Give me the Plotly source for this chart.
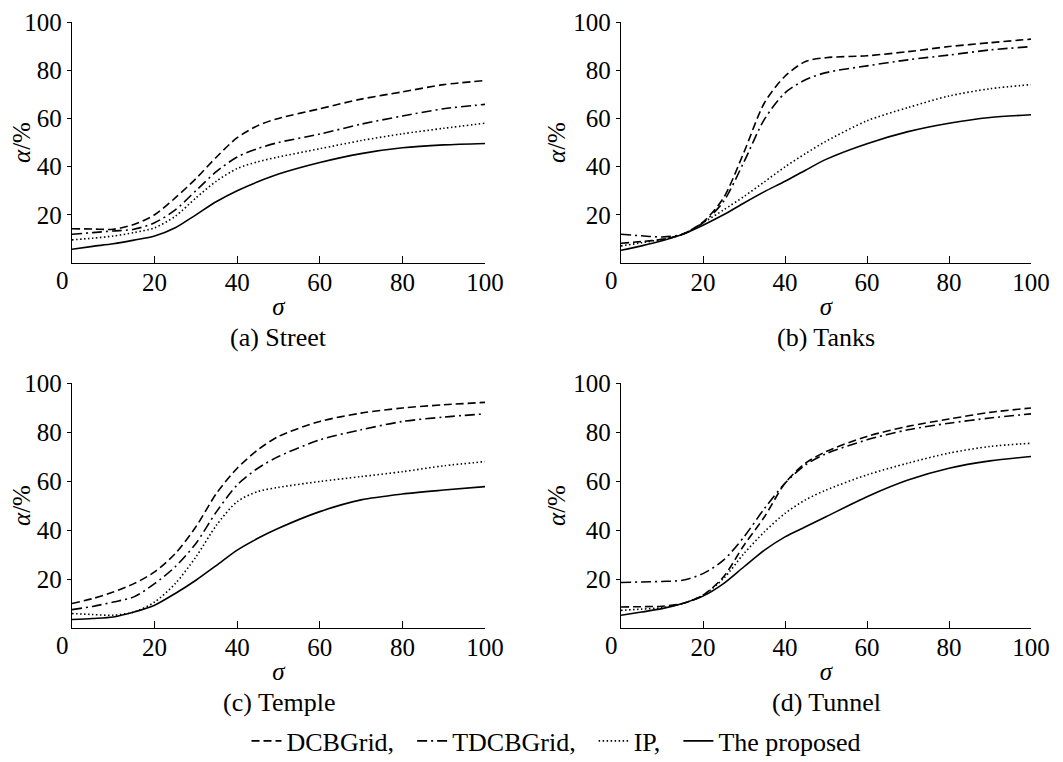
import plotly.graph_objects as go

sigma = [0, 5, 10, 15, 20, 25, 30, 35, 40, 45, 50, 60, 70, 80, 90, 100]

series_names = ["DCBGrid,", "TDCBGrid,", "IP,", "The proposed"]

street_dcb   = [14.2, 14.1, 14.0, 16.0, 20.0, 27.0, 35.0, 44.0, 52.0, 57.0, 60.0, 64.0, 68.0, 71.0, 74.0, 75.7]
street_tdcb  = [11.9, 12.6, 13.3, 14.0, 16.7, 22.0, 30.0, 38.0, 44.0, 47.5, 50.0, 53.5, 57.6, 61.0, 64.0, 65.8]
street_ip    = [9.6, 10.3, 11.2, 12.6, 14.6, 19.4, 27.0, 34.0, 39.2, 42.0, 44.0, 47.4, 50.8, 53.6, 55.9, 58.0]
street_prop  = [5.7, 6.9, 8.0, 9.5, 11.2, 14.6, 20.0, 25.5, 30.0, 33.7, 36.9, 41.7, 45.4, 47.8, 49.0, 49.6]

tanks_dcb    = [8.2, 8.9, 9.8, 11.9, 17.0, 27.0, 46.0, 66.5, 77.5, 83.6, 85.2, 86.0, 87.7, 89.8, 91.4, 92.9]
tanks_tdcb   = [11.9, 11.3, 10.8, 11.9, 16.7, 25.5, 42.0, 59.7, 70.6, 76.0, 79.0, 81.8, 84.3, 86.3, 88.4, 89.8]
tanks_ip     = [7.1, 8.4, 9.8, 11.9, 16.7, 22.0, 27.6, 33.7, 39.9, 45.4, 50.5, 59.0, 64.5, 69.3, 72.3, 74.0]
tanks_prop   = [5.3, 7.1, 9.2, 11.9, 15.7, 20.0, 24.9, 29.6, 33.9, 38.5, 43.0, 49.5, 54.5, 58.0, 60.4, 61.5]

temple_dcb   = [10.0, 12.0, 14.7, 18.1, 22.9, 30.4, 41.3, 55.0, 65.2, 72.7, 78.2, 84.3, 87.7, 89.8, 91.1, 92.1]
temple_tdcb  = [7.5, 8.8, 10.6, 12.7, 18.1, 25.0, 34.5, 47.5, 58.4, 65.2, 70.0, 76.8, 80.9, 84.3, 86.1, 87.4]
temple_ip    = [5.9, 5.5, 5.2, 6.5, 10.6, 18.1, 29.0, 42.0, 51.6, 55.7, 57.4, 59.8, 61.8, 63.8, 66.2, 67.9]
temple_prop  = [3.5, 3.9, 4.5, 6.5, 9.3, 14.1, 19.5, 25.6, 31.8, 36.6, 40.7, 47.5, 52.3, 54.7, 56.3, 57.7]

tunnel_dcb   = [8.6, 8.7, 8.9, 10.0, 13.4, 20.9, 33.8, 45.4, 59.1, 67.3, 72.0, 78.2, 82.3, 85.3, 88.0, 89.8]
tunnel_tdcb  = [18.6, 18.8, 19.0, 19.5, 22.2, 27.7, 37.2, 48.8, 59.1, 66.6, 71.1, 76.8, 80.9, 83.6, 85.7, 87.4]
tunnel_ip    = [7.2, 7.7, 8.3, 10.0, 13.4, 20.2, 30.4, 39.3, 46.8, 52.3, 56.3, 62.5, 67.3, 71.4, 74.1, 75.4]
tunnel_prop  = [5.2, 6.5, 7.9, 10.0, 13.0, 18.1, 25.0, 31.8, 37.2, 41.3, 45.4, 53.6, 60.4, 65.2, 68.2, 70.0]

panel_titles = ["(a) Street", "(b) Tanks", "(c) Temple", "(d) Tunnel"]
panels = [
    [street_dcb, street_tdcb, street_ip, street_prop],
    [tanks_dcb, tanks_tdcb, tanks_ip, tanks_prop],
    [temple_dcb, temple_tdcb, temple_ip, temple_prop],
    [tunnel_dcb, tunnel_tdcb, tunnel_ip, tunnel_prop],
]

x_ticks = [20, 40, 60, 80, 100]
y_ticks = [20, 40, 60, 80, 100]

W, H = 1063, 762
FONT = "Liberation Serif"
FS = 25      # tick labels / axis titles
FS_TXT = 26  # captions / legend
OFF = 8      # page body margin offset

dashes = ["8px,4px", "10px,4px,2px,4px", "1.5px,2.5px", "solid"]

# target pixel boxes in the page: (left, right, top, bottom)
boxes = [
    (72, 485, 22, 263),
    (621, 1031, 22, 263),
    (72, 485, 383, 628),
    (621, 1031, 383, 628),
]

fig = go.Figure()
annotations = []
for i, (data, box) in enumerate(zip(panels, boxes)):
    sfx = "" if i == 0 else str(i + 1)
    for j, ys in enumerate(data):
        fig.add_trace(go.Scatter(
            x=sigma, y=ys, mode="lines", line_shape="spline",
            line=dict(color="black", width=1.6, dash=dashes[j], smoothing=0.8),
            name=series_names[j] + "\u00a0\u00a0", showlegend=(i == 0),
            xaxis="x" + sfx, yaxis="y" + sfx,
        ))
    l, r, t, b = [v - OFF for v in box]
    xd = [l / W, r / W]
    yd = [(H - b) / H, (H - t) / H]
    axis_common = dict(
        range=[0, 100], showgrid=False, zeroline=False, showline=True,
        linecolor="black", linewidth=1.3, tickcolor="black",
        tickfont=dict(family=FONT, size=FS, color="black"),
        ticklabeloverflow="allow",
    )
    fig.layout["xaxis" + sfx] = dict(
        axis_common, domain=xd, anchor="y" + sfx, tickvals=x_ticks,
        ticks="inside", ticklen=7, tickwidth=1.3, ticklabelstandoff=-3,
        title=dict(text="<i>σ</i>", font=dict(family=FONT, size=FS, color="black"), standoff=2),
    )
    fig.layout["yaxis" + sfx] = dict(
        axis_common, domain=yd, anchor="x" + sfx, tickvals=y_ticks,
        ticks="outside", ticklen=4, tickwidth=1.3,
        title=dict(text="<i>α</i>/%", font=dict(family=FONT, size=FS, color="black"), standoff=0),
    )
    annotations.append(dict(
        text="0", x=0, y=0, xref="x" + sfx, yref="y" + sfx,
        xanchor="center", yanchor="top", xshift=-10, yshift=-2, showarrow=False,
        font=dict(family=FONT, size=FS, color="black"),
    ))
    annotations.append(dict(
        text=panel_titles[i], x=(xd[0] + xd[1]) / 2, y=(H - (b + 74)) / H,
        xref="paper", yref="paper", xanchor="center", yanchor="middle", showarrow=False,
        font=dict(family=FONT, size=FS_TXT, color="black"),
    ))

fig.update_layout(
    width=W, height=H,
    margin=dict(l=0, r=0, t=0, b=0, autoexpand=False),
    paper_bgcolor="white", plot_bgcolor="white",
    font=dict(family=FONT, size=FS, color="black"),
    annotations=annotations,
    legend=dict(
        orientation="h", x=(563 - OFF) / W, xanchor="center",
        y=(H - (741 - OFF)) / H, yanchor="middle",
        font=dict(family=FONT, size=FS_TXT, color="black"), bgcolor="rgba(0,0,0,0)",
        itemwidth=30, tracegroupgap=0,
    ),
)

fig.write_html("out.html")
